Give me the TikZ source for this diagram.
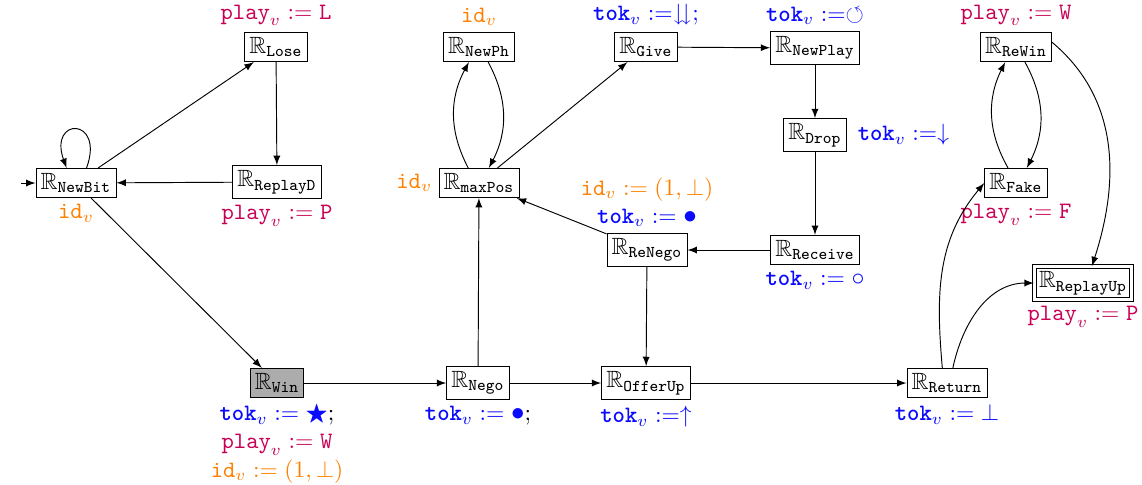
\documentclass[tikz,border=0pt]{standalone}
\usepackage{amsmath,amssymb}
\usepackage{graphicx}
\usetikzlibrary{arrows.meta}
\definecolor{playc}{RGB}{200,0,85}
\definecolor{tokc}{RGB}{10,10,255}
\definecolor{idc}{RGB}{255,128,0}
\newcommand{\RR}[1]{$\mathbb{R}_{\texttt{#1}}$}
\newcommand{\pl}[1]{\textcolor{playc}{$\texttt{play}_v := \texttt{#1}$}}
\newcommand{\tk}[1]{\textcolor{tokc}{$\textbf{\texttt{tok}}_v :=#1$}}
\newcommand{\idv}{\textcolor{idc}{$\texttt{id}_v$}}
\newcommand{\idset}{\textcolor{idc}{$\texttt{id}_v := (1,\bot)$}}
\newcommand{\mybul}{\mathord{\scalebox{1.15}{$\bullet$}}}
\newcommand{\mycirc}{\mathord{\scalebox{1.1}{$\circ$}}}
\begin{document}
\begin{tikzpicture}[x=0.4255pt,y=-0.4255pt,>=latex,
  st/.style={draw,inner sep=2pt},
  every label/.style={inner sep=2.5pt}]
\useasboundingbox (0,0) rectangle (1142,484);
\node[st,label={below:\idv}] (nb) at (76,183) {\RR{NewBit}};
\node[st,label={above:\pl{L}}] (lose) at (276,47) {\RR{Lose}};
\node[st,label={below:\pl{P}}] (rd) at (277,182) {\RR{ReplayD}};
\node[st,fill=gray!65,label={[align=center]below:{\tk{\bigstar};\\ \pl{W}\\ \idset}}] (win) at (277,383) {\RR{Win}};
\node[st,label={below:{\tk{\mybul};}}] (nego) at (478,383) {\RR{Nego}};
\node[st,label={left:\idv}] (mp) at (479,183) {\RR{maxPos}};
\node[st,label={above:\idv}] (nph) at (479,47) {\RR{NewPh}};
\node[st,label={above:{\tk{\downdownarrows;}}}] (give) at (646,47) {\RR{Give}};
\node[st,label={above:{\tk{\circlearrowleft}}}] (np) at (815,48) {\RR{NewPlay}};
\node[st,label={[label distance=2pt]right:{\tk{\downarrow}}}] (drop) at (815,135) {\RR{Drop}};
\node[st,label={below:{\tk{\mycirc}}}] (rec) at (815,250) {\RR{Receive}};
\node[st,label={[align=center]above:{\idset\\ \tk{\mybul}}}] (ren) at (647,250) {\RR{ReNego}};
\node[st,label={below:{\tk{\uparrow}}}] (off) at (646,383) {\RR{OfferUp}};
\node[st,label={below:{\tk{\bot}}}] (ret) at (947,383) {\RR{Return}};
\node[st,label={above:\pl{W}}] (rw) at (1016,47) {\RR{ReWin}};
\node[st,label={below:\pl{F}}] (fake) at (1016,183) {\RR{Fake}};
\node[st,double,double distance=1.2pt,label={below:\pl{P}}] (ru) at (1083,283) {\RR{ReplayUp}};
\coordinate (s) at (21,183);
\draw[->] (s) -- (nb);
\draw[->] (nb.55) to[out=70,in=110,looseness=7] (nb.122);
\draw[->] (nb) -- (lose);
\draw[->] (lose) -- (rd);
\draw[->] (rd) -- (nb);
\draw[->] (nb) -- (win);
\draw[->] (win) -- (nego);
\draw[->] (nego) -- (mp);
\draw[->] (nego) -- (off);
\draw[->] ([xshift=-4.6pt]mp.north) to[bend left=28] ([xshift=-4.3pt]nph.south);
\draw[->] ([xshift=3.9pt]nph.south) to[bend left=28] ([xshift=4.2pt]mp.north);
\draw[->] (mp) -- (give);
\draw[->] (give) -- (np);
\draw[->] (np) -- (drop);
\draw[->] (drop) -- (rec);
\draw[->] (rec) -- (ren);
\draw[->] (ren) -- (mp);
\draw[->] (ren) -- (off);
\draw[->] (off) -- (ret);
\draw[->] ([xshift=-2pt]ret.north) to[out=95,in=230] (fake.west);
\draw[->] ([xshift=2.5pt]ret.north) to[out=78,in=180] (ru.west);
\draw[->] ([xshift=-3.4pt]fake.north) to[bend left=28] ([xshift=-4.6pt]rw.south);
\draw[->] ([xshift=3.8pt]rw.south) to[bend left=28] ([xshift=4.6pt]fake.north);
\draw[->] ([yshift=2pt]rw.east) to[out=-40,in=72] ([xshift=3.8pt]ru.north);
\end{tikzpicture}
\end{document}
